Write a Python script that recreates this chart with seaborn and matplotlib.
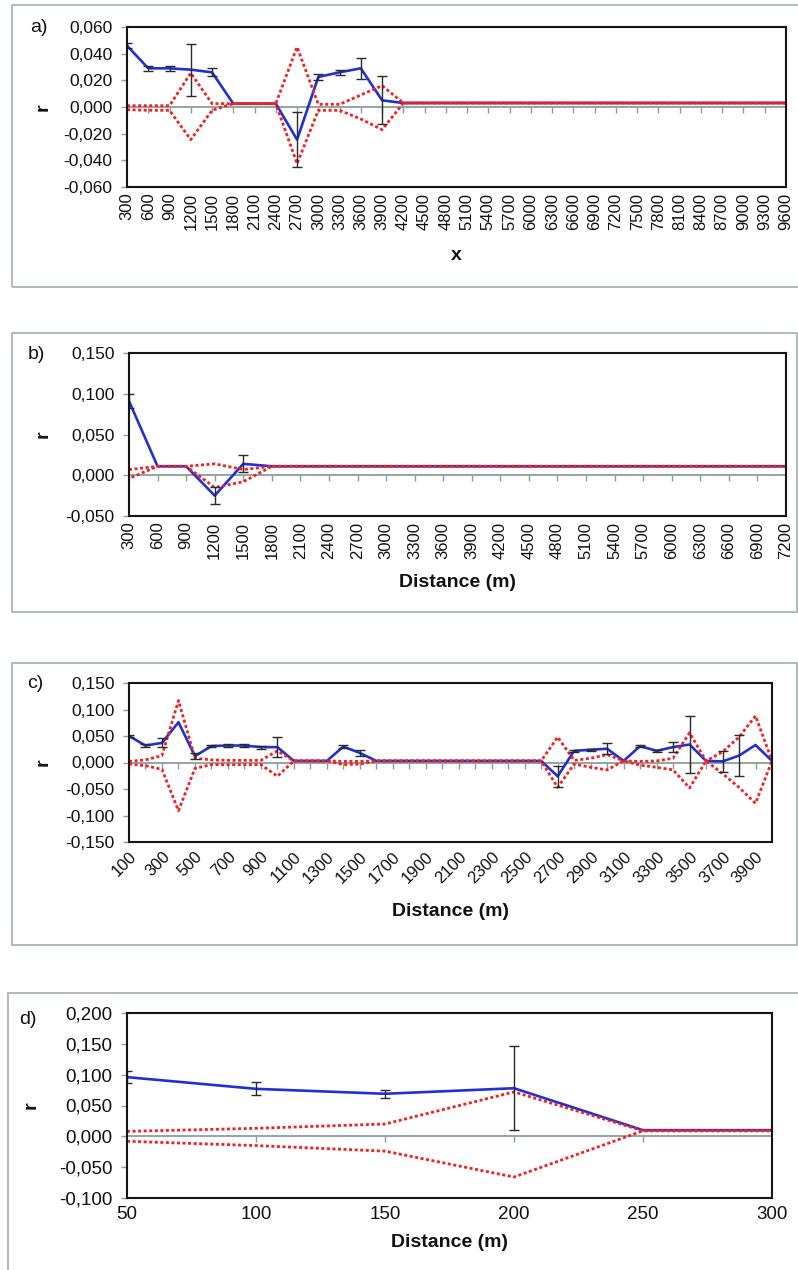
import numpy as np
import pandas as pd
import matplotlib
matplotlib.use("Agg")
import matplotlib.pyplot as plt
import seaborn as sns
from matplotlib import font_manager
from matplotlib.patches import Rectangle
from matplotlib.ticker import FuncFormatter, MultipleLocator

nan = np.nan

# ---------------- panel a ----------------
a_dist = list(range(300, 9601, 300))
a_r = [0.046, 0.029, 0.029, 0.028, 0.026, 0.0025, 0.0025, 0.0025, -0.0245, 0.0225,
       0.026, 0.029, 0.005, 0.003, 0.003, 0.003, 0.003, 0.003, 0.003, 0.003,
       0.003, 0.003, 0.003, 0.003, 0.003, 0.003, 0.003, 0.003, 0.003, 0.003,
       0.003, 0.003]
a_err = [0.002, 0.002, 0.002, 0.0195, 0.003, nan, nan, nan, 0.0205, 0.002,
         0.002, 0.008, 0.018, nan, nan, nan, nan, nan, nan, nan,
         nan, nan, nan, nan, nan, nan, nan, nan, nan, nan,
         nan, nan]
a_upper = [0.001, 0.001, 0.001, 0.0255, 0.0025, 0.0025, 0.0025, 0.0025, 0.045, 0.002,
           0.002, 0.009, 0.016, 0.003, 0.003, 0.003, 0.003, 0.003, 0.003, 0.003,
           0.003, 0.003, 0.003, 0.003, 0.003, 0.003, 0.003, 0.003, 0.003, 0.003,
           0.003, 0.003]
a_lower = [-0.002, -0.0025, -0.0025, -0.0245, -0.0025, 0.0025, 0.0025, 0.0025, -0.0425, -0.0025,
           -0.0025, -0.009, -0.017, 0.003, 0.003, 0.003, 0.003, 0.003, 0.003, 0.003,
           0.003, 0.003, 0.003, 0.003, 0.003, 0.003, 0.003, 0.003, 0.003, 0.003,
           0.003, 0.003]

# ---------------- panel b ----------------
b_dist = list(range(300, 7201, 300))
b_r = [0.091, 0.011, 0.011, -0.025, 0.014, 0.011, 0.011, 0.011, 0.011, 0.011,
       0.011, 0.011, 0.011, 0.011, 0.011, 0.011, 0.011, 0.011, 0.011, 0.011,
       0.011, 0.011, 0.011, 0.011]
b_err = [0.009, nan, nan, 0.010, 0.0105, nan, nan, nan, nan, nan,
         nan, nan, nan, nan, nan, nan, nan, nan, nan, nan,
         nan, nan, nan, nan]
b_upper = [0.007, 0.011, 0.011, 0.014, 0.007, 0.011, 0.011, 0.011, 0.011, 0.011,
           0.011, 0.011, 0.011, 0.011, 0.011, 0.011, 0.011, 0.011, 0.011, 0.011,
           0.011, 0.011, 0.011, 0.011]
b_lower = [-0.004, 0.011, 0.011, -0.015, -0.008, 0.011, 0.011, 0.011, 0.011, 0.011,
           0.011, 0.011, 0.011, 0.011, 0.011, 0.011, 0.011, 0.011, 0.011, 0.011,
           0.011, 0.011, 0.011, 0.011]

# ---------------- panel c ----------------
c_dist = list(range(100, 4001, 100))
c_r = [0.050, 0.032, 0.037, 0.076, 0.012, 0.031, 0.032, 0.032, 0.029, 0.029,
       0.003, 0.003, 0.003, 0.030, 0.018, 0.003, 0.003, 0.003, 0.003, 0.003,
       0.003, 0.003, 0.003, 0.003, 0.003, 0.003, -0.026, 0.022, 0.024, 0.026,
       0.003, 0.031, 0.022, 0.029, 0.034, 0.003, 0.002, 0.013, 0.033, 0.003]
c_err = [0.002, 0.003, 0.0085, nan, 0.006, 0.002, 0.002, 0.003, 0.003, 0.0195,
         nan, nan, nan, 0.003, 0.005, nan, nan, nan, nan, nan,
         nan, nan, nan, nan, nan, nan, 0.020, 0.002, 0.002, 0.010,
         nan, 0.002, 0.002, 0.010, 0.0545, nan, 0.0205, 0.0385, nan, nan]
c_upper = [0.002, 0.005, 0.013, 0.117, 0.008, 0.005, 0.004, 0.004, 0.004, 0.022,
           0.003, 0.003, 0.003, 0.002, 0.002, 0.003, 0.003, 0.003, 0.003, 0.003,
           0.003, 0.003, 0.003, 0.003, 0.003, 0.003, 0.048, 0.004, 0.008, 0.015,
           0.003, 0.002, 0.003, 0.008, 0.056, 0.003, 0.020, 0.048, 0.088, 0.003]
c_lower = [-0.003, -0.006, -0.013, -0.091, -0.011, -0.004, -0.004, -0.004, -0.004, -0.026,
           0.003, 0.003, 0.003, -0.004, -0.003, 0.003, 0.003, 0.003, 0.003, 0.003,
           0.003, 0.003, 0.003, 0.003, 0.003, 0.003, -0.047, -0.003, -0.009, -0.014,
           0.003, -0.005, -0.009, -0.014, -0.048, 0.003, -0.021, -0.047, -0.077, 0.003]

# ---------------- panel d ----------------
d_dist = [50, 100, 150, 200, 250, 300]
d_r = [0.096, 0.077, 0.069, 0.078, 0.010, 0.010]
d_err = [0.010, 0.0105, 0.0065, 0.068, nan, nan]
d_upper = [0.008, 0.013, 0.020, 0.072, 0.009, 0.009]
d_lower = [-0.008, -0.015, -0.024, -0.066, 0.009, 0.009]

# ---------------- styling ----------------
sns.set_theme(style="white")
installed = {f.name for f in font_manager.fontManager.ttflist}
MAIN_FONT = "Liberation Sans" if "Liberation Sans" in installed else "DejaVu Sans"
NARROW_FONT = "Liberation Sans Narrow" if "Liberation Sans Narrow" in installed else MAIN_FONT
plt.rcParams["font.family"] = [MAIN_FONT, "DejaVu Sans"]
plt.rcParams.update({"text.color": "#111111", "axes.labelcolor": "#111111"})

W, H = 798, 1270
fig = plt.figure(figsize=(W / 100, H / 100), dpi=100)

BLUE = "#1f30d8"
RED = "#ee2424"
AXIS_GRAY = "#8d9d9d"
FRAME_GRAY = "#a9b8b8"
DASH = (1.1, 0.9)


def px_axes(box):
    left, top, right, bottom = box
    return fig.add_axes([left / W, 1 - bottom / H, (right - left) / W, (bottom - top) / H])


def frame(left, top, right, bottom):
    fig.patches.append(Rectangle((left / W, 1 - bottom / H), (right - left) / W,
                                 (bottom - top) / H, transform=fig.transFigure,
                                 fill=False, ec=FRAME_GRAY, lw=1.3))


def frac(box, px, py):
    left, top, right, bottom = box
    return (px - left) / (right - left), (bottom - py) / (bottom - top)


def comma_fmt(v, _):
    if abs(v) < 1e-12:
        v = 0.0
    return f"{v:.3f}".replace(".", ",")


def draw_panel(ax, box, pos, r, err, up, lo, ylim, ystep, zero_ticks,
               lo_offset=0.0, ytick_font=MAIN_FONT, ytick_size=12.5, r_x=52):
    df = pd.DataFrame({"pos": pos, "r": r, "upper": up, "lower": lo})
    ax.axhline(0, color=AXIS_GRAY, lw=1.3, zorder=1)
    ax.plot(zero_ticks, np.zeros(len(zero_ticks)), ls="none", marker=3, ms=4,
            mew=1.0, color=AXIS_GRAY, zorder=1)
    sns.lineplot(data=df, x="pos", y="r", color=BLUE, lw=1.9, ax=ax,
                 errorbar=None, zorder=2)
    sns.lineplot(data=df, x="pos", y="upper", color=RED, lw=2.0, ax=ax,
                 errorbar=None, linestyle=(0, DASH), zorder=3)
    sns.lineplot(data=df, x="pos", y="lower", color=RED, lw=2.0, ax=ax,
                 errorbar=None, linestyle=(lo_offset, DASH), zorder=3)
    e = np.asarray(err, float)
    m = ~np.isnan(e)
    ax.errorbar(np.asarray(pos, float)[m], np.asarray(r, float)[m], yerr=e[m],
                fmt="none", ecolor="#2a2a2a", elinewidth=1.0, capsize=3.5,
                capthick=1.0, zorder=4)
    ax.set_ylim(*ylim)
    ax.yaxis.set_major_locator(MultipleLocator(ystep))
    ax.yaxis.set_major_formatter(FuncFormatter(comma_fmt))
    ax.tick_params(axis="y", left=True, direction="out", length=4, width=1.0,
                   color=AXIS_GRAY, labelcolor="#111111", labelsize=ytick_size, pad=6.5)
    for lab in ax.get_yticklabels():
        lab.set_fontfamily([ytick_font, "DejaVu Sans"])
    ax.tick_params(axis="x", bottom=True, length=0, labelcolor="#111111")
    for s in ax.spines.values():
        s.set_visible(True)
        s.set_color("#151515")
        s.set_linewidth(1.5)
        s.set_zorder(5)
    ax.set_facecolor("white")
    ax.set_ylabel("r", fontsize=14, fontweight="bold")
    ax.yaxis.set_label_coords(frac(box, r_x, 0)[0], 0.5)


# chart-area borders
frame(12, 5, 803, 287)
frame(12, 333, 797, 612)
frame(12, 663, 797, 945)
frame(8, 993, 803, 1275)

# ---- a ----
box_a = (127, 27, 786, 187)
ax_a = px_axes(box_a)
pa = np.arange(len(a_dist))
draw_panel(ax_a, box_a, pa, a_r, a_err, a_upper, a_lower, (-0.06, 0.06), 0.02, pa)
ax_a.set_xlim(0, len(a_dist) - 1)
ax_a.set_xticks(pa)
ax_a.set_xticklabels([str(v) for v in a_dist], rotation=90, fontsize=12)
ax_a.tick_params(axis="x", pad=4)
ax_a.set_xlabel("x", fontsize=14, fontweight="bold", va="top")
ax_a.xaxis.set_label_coords(0.5, frac(box_a, 0, 247)[1])

# ---- b ----
box_b = (129, 353, 786, 516)
ax_b = px_axes(box_b)
pb = np.arange(len(b_dist))
draw_panel(ax_b, box_b, pb, b_r, b_err, b_upper, b_lower, (-0.05, 0.15), 0.05, pb,
           lo_offset=1.0)
ax_b.set_xlim(0, len(b_dist) - 1)
ax_b.set_xticks(pb)
ax_b.set_xticklabels([str(v) for v in b_dist], rotation=90, fontsize=12)
ax_b.tick_params(axis="x", pad=4)
ax_b.set_xlabel("Distance (m)", fontsize=14, fontweight="bold", va="top",
                fontfamily=[NARROW_FONT, "DejaVu Sans"])
ax_b.xaxis.set_label_coords(0.5, frac(box_b, 0, 574)[1])

# ---- c ----
box_c = (129, 683, 772, 842)
ax_c = px_axes(box_c)
pc = np.arange(len(c_dist))
draw_panel(ax_c, box_c, pc, c_r, c_err, c_upper, c_lower, (-0.15, 0.15), 0.05, pc)
ax_c.set_xlim(0, len(c_dist) - 1)
ax_c.set_xticks(pc[::2])
ax_c.set_xticklabels([str(v) for v in c_dist[::2]], rotation=45, ha="right",
                     rotation_mode="anchor", fontsize=12)
ax_c.tick_params(axis="x", pad=5)
ax_c.set_xlabel("Distance (m)", fontsize=14, fontweight="bold", va="top",
                fontfamily=[NARROW_FONT, "DejaVu Sans"])
ax_c.xaxis.set_label_coords(0.5, frac(box_c, 0, 903)[1])

# ---- d ----
box_d = (127, 1013, 772, 1198)
ax_d = px_axes(box_d)
draw_panel(ax_d, box_d, d_dist, d_r, d_err, d_upper, d_lower, (-0.10, 0.20), 0.05,
           d_dist[1:-1], ytick_font=NARROW_FONT, ytick_size=13.5, r_x=40)
ax_d.set_xlim(50, 300)
ax_d.set_xticks(d_dist)
ax_d.set_xticklabels([str(v) for v in d_dist], fontsize=13.5,
                     fontfamily=[NARROW_FONT, "DejaVu Sans"])
ax_d.tick_params(axis="x", pad=6)
ax_d.set_xlabel("Distance (m)", fontsize=14, fontweight="bold", va="top",
                fontfamily=[NARROW_FONT, "DejaVu Sans"])
ax_d.xaxis.set_label_coords(0.5, frac(box_d, 0, 1234)[1])

# panel letters
for letter, (x, y) in zip(["a)", "b)", "c)", "d)"],
                          [(30, 27), (28, 355), (27, 683), (19, 1020)]):
    fig.text(x / W, 1 - y / H, letter, fontsize=14, ha="left", va="center")

fig.savefig("out.png", dpi=100, facecolor="white")
